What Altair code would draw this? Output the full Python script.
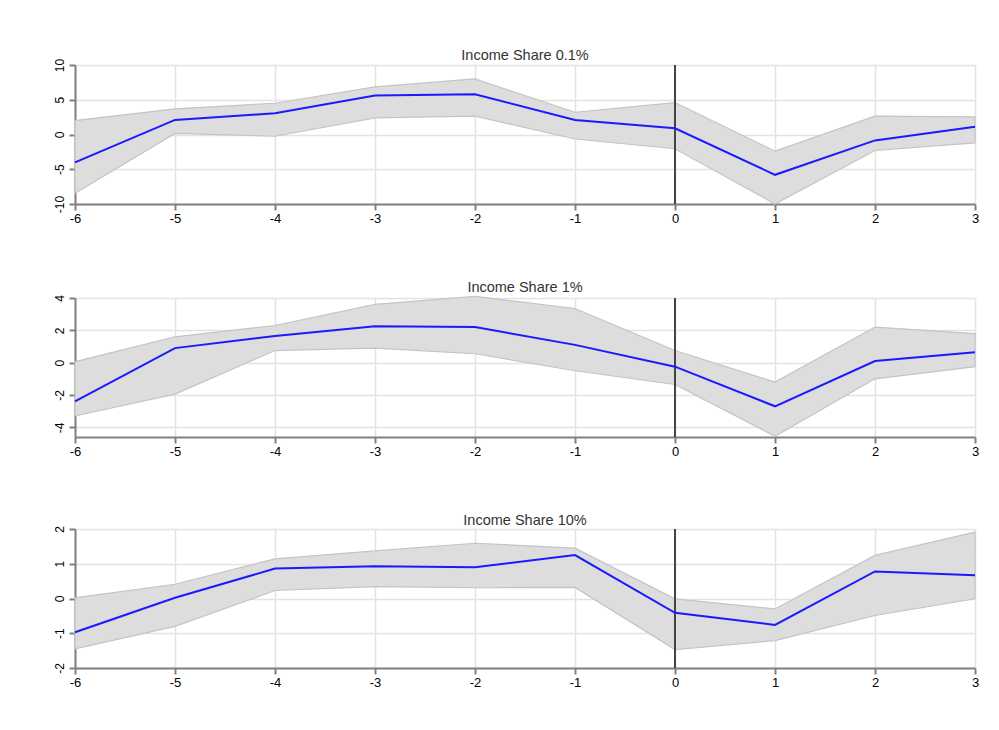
import altair as alt
import pandas as pd

years = [-6, -5, -4, -3, -2, -1, 0, 1, 2, 3]

# Income Share 0.1%
p01_est = [-4.0, 2.1, 3.05, 5.6, 5.8, 2.1, 0.9, -5.8, -0.85, 1.1]
p01_hi = [2.0, 3.7, 4.5, 6.85, 8.0, 3.2, 4.6, -2.4, 2.65, 2.55]
p01_lo = [-8.45, 0.15, -0.25, 2.4, 2.65, -0.65, -2.05, -10.0, -2.3, -1.2]

# Income Share 1%
p1_est = [-2.4, 0.9, 1.65, 2.25, 2.2, 1.1, -0.25, -2.7, 0.1, 0.65]
p1_hi = [0.05, 1.6, 2.3, 3.6, 4.1, 3.35, 0.75, -1.2, 2.2, 1.8]
p1_lo = [-3.3, -1.95, 0.75, 0.9, 0.55, -0.5, -1.35, -4.55, -1.0, -0.25]

# Income Share 10%
p10_est = [-0.97, 0.02, 0.86, 0.93, 0.9, 1.25, -0.41, -0.76, 0.78, 0.67]
p10_hi = [0.02, 0.41, 1.14, 1.37, 1.59, 1.45, -0.01, -0.3, 1.24, 1.91]
p10_lo = [-1.45, -0.8, 0.23, 0.34, 0.31, 0.32, -1.47, -1.21, -0.49, -0.01]

titles = ["Income Share 0.1%", "Income Share 1%", "Income Share 10%"]
domains = [[-10, 10], [-4.6, 4.0], [-2, 2]]
ticks = [[-10, -5, 0, 5, 10], [-4, -2, 0, 2, 4], [-2, -1, 0, 1, 2]]
title_offsets = [-5, -2, -3]
series = [(p01_est, p01_hi, p01_lo), (p1_est, p1_hi, p1_lo), (p10_est, p10_hi, p10_lo)]

FONT = "Liberation Sans"


def panel(title, est, hi, lo, dom, tv, toff):
    df = pd.DataFrame({"year": years, "est": est, "hi": hi, "lo": lo})
    x_axis = alt.Axis(values=years, title=None, grid=True,
                      labelExpr="'' + datum.value", labelOverlap=False, labelFlush=False,
                      labelFontSize=13, labelColor="#000", labelFont=FONT,
                      domainColor="#808080", domainWidth=2.2, tickColor="#808080",
                      tickWidth=2, tickSize=6, labelPadding=2,
                      gridColor="#e3e3e3", gridWidth=1.5)
    y_axis = alt.Axis(values=tv, title=None, grid=True, labelAngle=270,
                      labelExpr="'' + datum.value", labelOverlap=False, labelFlush=False,
                      labelFontSize=12, labelColor="#000", labelFont=FONT,
                      labelAlign="center", labelBaseline="bottom",
                      domainColor="#808080", domainWidth=2, tickColor="#808080",
                      tickWidth=2, tickSize=6, labelPadding=3,
                      gridColor="#e3e3e3", gridWidth=1.5)
    xs = alt.Scale(domain=[-6, 3], nice=False)
    ys = alt.Scale(domain=dom, nice=False, zero=False)
    base = alt.Chart(df)
    band = base.mark_area(color="#dddddd", stroke="#c4c4c4", strokeWidth=1.2,
                          opacity=1).encode(
        x=alt.X("year:Q", scale=xs, axis=x_axis),
        y=alt.Y("lo:Q", scale=ys, axis=y_axis),
        y2="hi:Q",
    )
    line = base.mark_line(color="#1a1aff", strokeWidth=2).encode(
        x=alt.X("year:Q", scale=xs, axis=x_axis),
        y=alt.Y("est:Q", scale=ys, axis=y_axis),
    )
    rule = alt.Chart(pd.DataFrame({"year": [0]})).mark_rule(
        color="#444", strokeWidth=2).encode(x=alt.X("year:Q", scale=xs, axis=x_axis))
    return alt.layer(band, rule, line).properties(
        width=900, height=139,
        title=alt.TitleParams(title, fontSize=14.5, font=FONT, color="#333",
                              fontWeight="normal", offset=toff),
    )


panels = [panel(t, e, h, l, d, tv, o)
          for t, (e, h, l), d, tv, o in zip(titles, series, domains, ticks, title_offsets)]

chart = alt.vconcat(*panels, spacing=53).properties(
    padding={"left": 44, "top": 39, "right": 10, "bottom": 10}
).configure_view(stroke=None).configure(background="white")

chart.save("out.html", embed_options={"renderer": "svg", "actions": False})
